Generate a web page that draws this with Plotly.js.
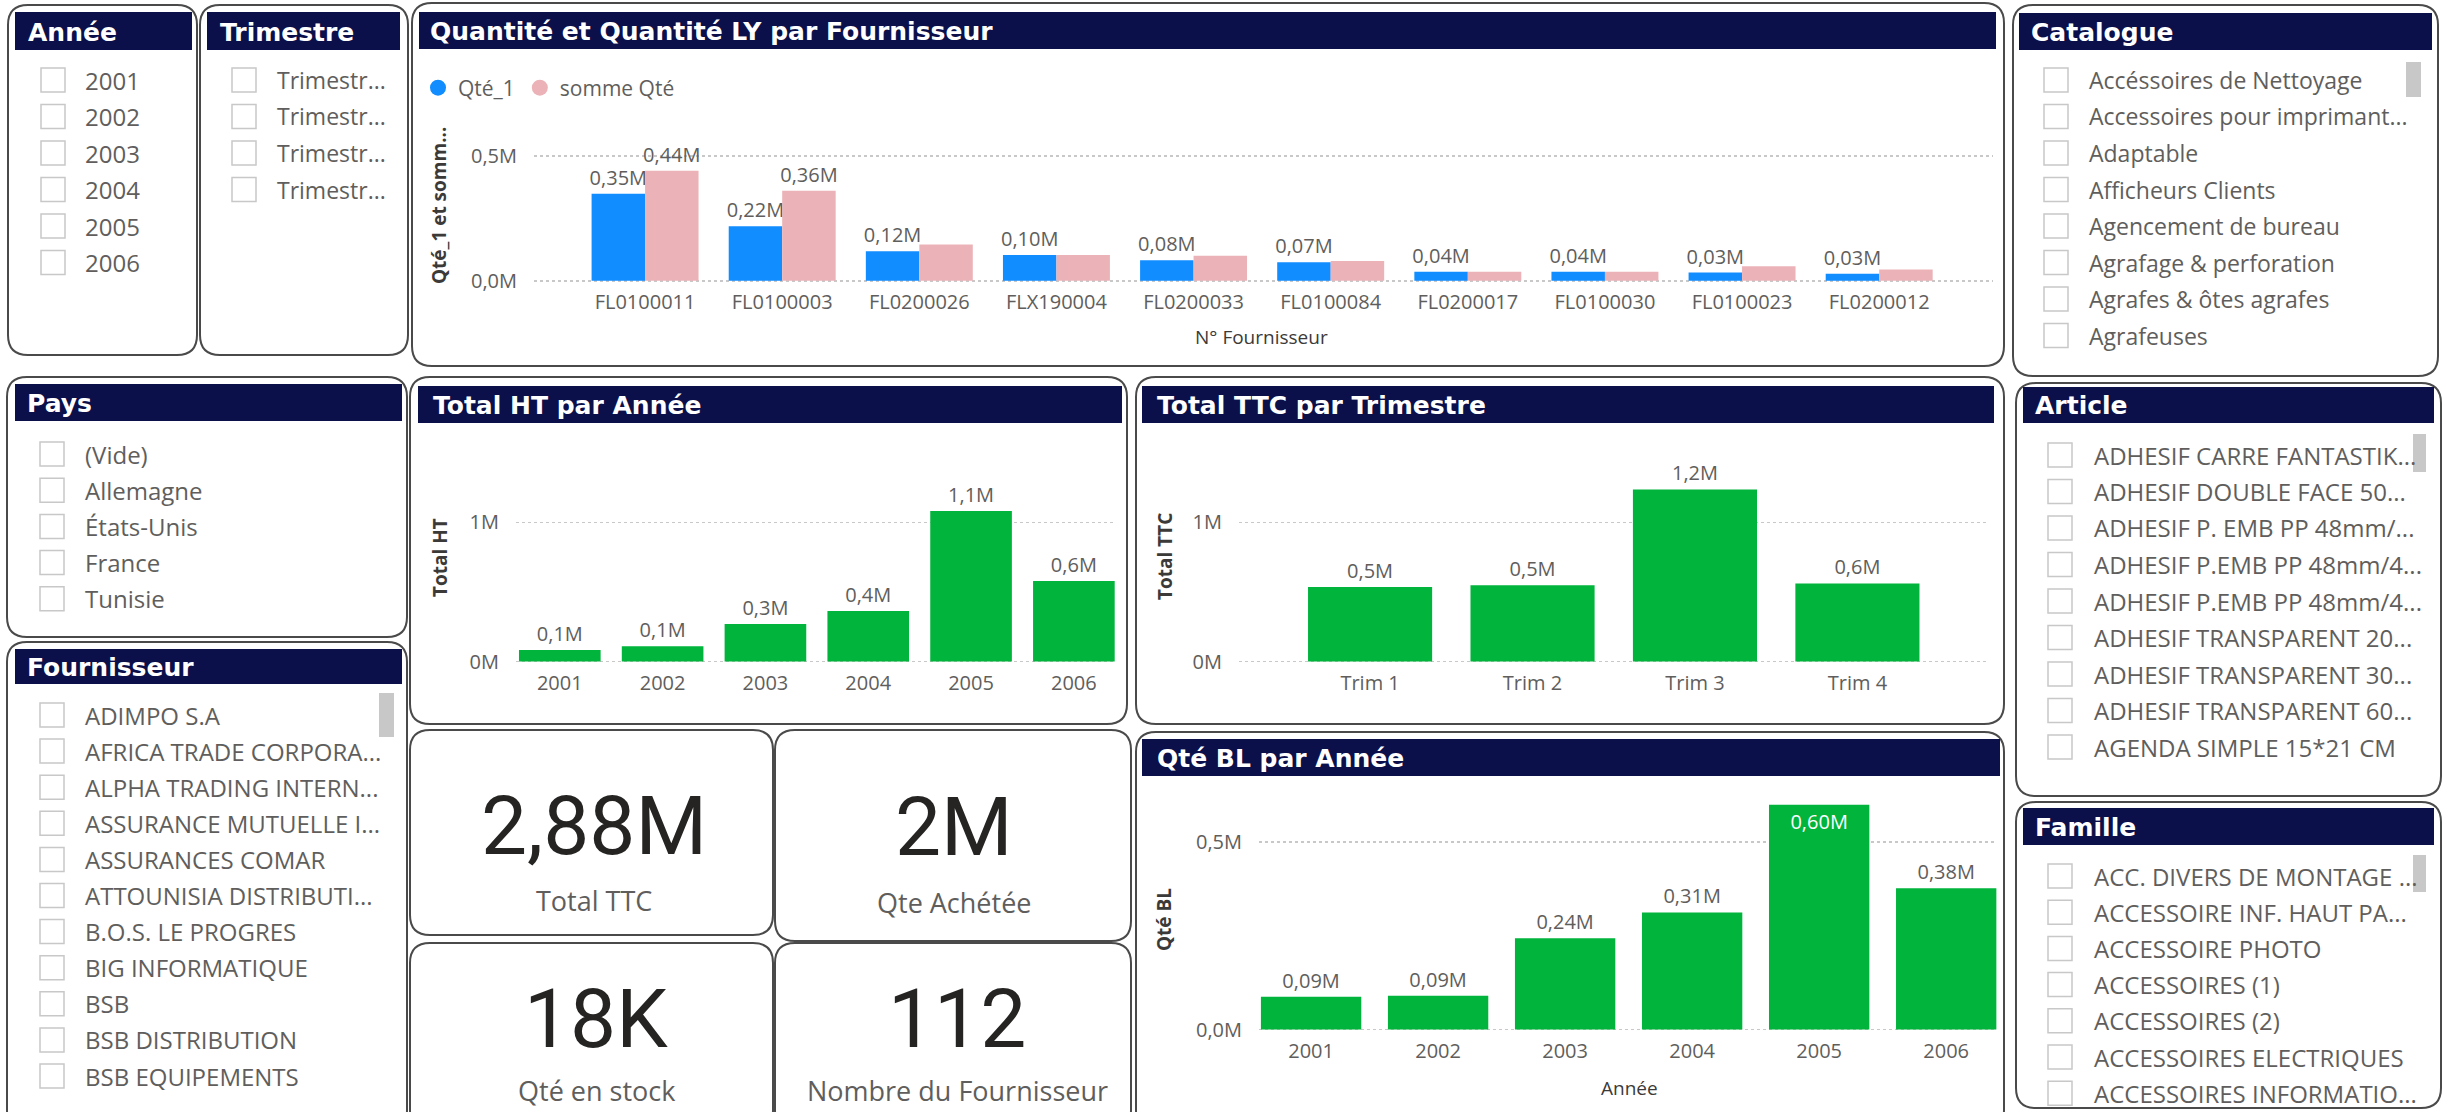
<!DOCTYPE html>
<html>
<head>
<meta charset="utf-8">
<script src="https://cdn.plot.ly/plotly-3.0.1.min.js"></script>
<style>
  html, body { margin: 0; padding: 0; background: #ffffff; }
  #chart { width: 2447px; height: 1112px; }
</style>
</head>
<body>
<div id="chart"></div>
<script>
// ---------------- DATA ----------------
const suppliers = ['FL0100011','FL0100003','FL0200026','FLX190004','FL0200033','FL0100084','FL0200017','FL0100030','FL0100023','FL0200012'];
const qte1 = [0.348, 0.218, 0.118, 0.103, 0.082, 0.074, 0.036, 0.036, 0.033, 0.028];
const sommeQte = [0.44, 0.36, 0.145, 0.103, 0.10, 0.079, 0.036, 0.036, 0.058, 0.045];
const labelledPinkCount = 2;

const years = ['2001','2002','2003','2004','2005','2006'];
const totalHT = [0.083, 0.11, 0.27, 0.364, 1.083, 0.579];

const quarters = ['Trim 1','Trim 2','Trim 3','Trim 4'];
const totalTTC = [0.536, 0.548, 1.238, 0.562];

const qteBL = [0.087, 0.09, 0.243, 0.312, 0.599, 0.376];

const kpiValues = ['2,88M', '2M', '18K', '112'];
const kpiLabels = ['Total TTC', 'Qte Achétée', 'Qté en stock', 'Nombre du Fournisseur'];

const anneeItems = ['2001','2002','2003','2004','2005','2006'];
const trimestreItems = ['Trimestr...','Trimestr...','Trimestr...','Trimestr...'];
const catalogueItems = ['Accéssoires de Nettoyage','Accessoires pour imprimant...','Adaptable','Afficheurs Clients','Agencement de bureau','Agrafage & perforation','Agrafes & ôtes agrafes','Agrafeuses'];
const paysItems = ['(Vide)','Allemagne','États-Unis','France','Tunisie'];
const fournisseurItems = ['ADIMPO S.A','AFRICA TRADE CORPORA...','ALPHA TRADING INTERN...','ASSURANCE MUTUELLE I...','ASSURANCES COMAR','ATTOUNISIA DISTRIBUTI...','B.O.S. LE PROGRES','BIG INFORMATIQUE','BSB','BSB DISTRIBUTION','BSB EQUIPEMENTS'];
const articleItems = ['ADHESIF CARRE FANTASTIK...','ADHESIF DOUBLE FACE 50...','ADHESIF P. EMB PP 48mm/...','ADHESIF P.EMB PP 48mm/4...','ADHESIF P.EMB PP 48mm/4...','ADHESIF TRANSPARENT 20...','ADHESIF TRANSPARENT 30...','ADHESIF TRANSPARENT 60...','AGENDA SIMPLE 15*21 CM'];
const familleItems = ['ACC. DIVERS DE MONTAGE ...','ACCESSOIRE INF. HAUT PA...','ACCESSOIRE PHOTO','ACCESSOIRES (1)','ACCESSOIRES (2)','ACCESSOIRES ELECTRIQUES','ACCESSOIRES INFORMATIO...'];

// ---------------- STYLE / GEOMETRY ----------------
const W = 2447, H = 1112;
const X = p => p / W;
const Y = p => 1 - p / H;
const FONT = '"Segoe UI", "Open Sans", "Noto Sans", sans-serif';
const TFONT = '"DejaVu Sans", Roboto, sans-serif';
const KFONT = 'Roboto, "Open Sans", sans-serif';
const GRAY = '#605E5C';
const DARK = '#3b3a39';
const NAVY = '#0b104a';
const BLUE = '#118DFF';
const PINK = '#EBB3B8';
const GREEN = '#00B43C';
const GRID = '#c8c8c8';
const BORDER = '#4a4a4a';

const shapes = [];
const annotations = [];

function roundRect(x0, y0, x1, y1, r) {
  const rx = r / W, ry = r / H;
  const a = X(x0), b = X(x1), t = Y(y0), u = Y(y1);
  return `M ${a+rx},${t} L ${b-rx},${t} Q ${b},${t} ${b},${t-ry} L ${b},${u+ry} Q ${b},${u} ${b-rx},${u} ` +
         `L ${a+rx},${u} Q ${a},${u} ${a},${u+ry} L ${a},${t-ry} Q ${a},${t} ${a+rx},${t} Z`;
}
function rect(x0, y0, x1, y1, fill, line, lw, layer) {
  shapes.push({type:'rect', xref:'paper', yref:'paper', x0:X(x0), x1:X(x1), y0:Y(y1), y1:Y(y0),
    fillcolor: fill || 'rgba(0,0,0,0)', line:{color: line || 'rgba(0,0,0,0)', width: lw || 0}, layer: layer || 'above'});
}
function text(t, x, y, opts) {
  opts = opts || {};
  annotations.push({text:t, xref:'paper', yref:'paper', x:X(x), y:Y(y), showarrow:false,
    xanchor: opts.xanchor || 'left', yanchor: opts.yanchor || 'middle', textangle: opts.angle || 0,
    font:{family: opts.family || FONT, size: opts.size || 24, color: opts.color || GRAY}});
}

const panels = [
  {box:[8,5,197,355],     bar:[15,12,192,50],    title:'Année', tx:26},
  {box:[200,5,408,355],   bar:[207,12,400,50],   title:'Trimestre', tx:218},
  {box:[412,3,2004,366],  bar:[419,12,1996,49],  title:'Quantité et Quantité LY par Fournisseur', tx:428},
  {box:[2013,5,2438,376], bar:[2019,13,2432,50], title:'Catalogue', tx:2029},
  {box:[7,377,407,637],   bar:[15,384,402,421],  title:'Pays', tx:25},
  {box:[7,642,407,1130],  bar:[15,649,402,684],  title:'Fournisseur', tx:25},
  {box:[410,377,1127,724],bar:[418,386,1122,423],title:'Total HT par Année', tx:431},
  {box:[1136,377,2004,724],bar:[1142,386,1994,423],title:'Total TTC par Trimestre', tx:1155},
  {box:[2016,383,2441,796],bar:[2023,387,2434,423],title:'Article', tx:2033},
  {box:[2016,802,2441,1108],bar:[2023,808,2434,845],title:'Famille', tx:2033},
  {box:[410,730,773,935]},
  {box:[775,730,1131,941]},
  {box:[410,943,773,1130]},
  {box:[775,943,1131,1130]},
  {box:[1136,732,2004,1130],bar:[1142,739,2000,776],title:'Qté BL par Année', tx:1155}
];
panels.forEach(p => {
  const [x0,y0,x1,y1] = p.box;
  shapes.push({type:'path', xref:'paper', yref:'paper', path: roundRect(x0,y0,x1,y1,20),
    fillcolor:'white', line:{color:BORDER, width:2}, layer:'below'});
  if (p.bar) {
    const [a,b,c,d] = p.bar;
    rect(a,b,c,d, NAVY, null, 0, 'above');
    text('<b>' + p.title + '</b>', p.tx, (b+d)/2 + 1, {family:TFONT, size:25, color:'white'});
  }
});

function slicer(items, xBox, xText, y0, dy, size) {
  items.forEach((t, i) => {
    const y = y0 + i * dy;
    rect(xBox, y-12, xBox+24, y+12, null, '#c8c8c8', 1.5, 'above');
    text(t, xText, y, {size: size || 24});
  });
}
slicer(anneeItems, 41, 83, 80, 36.5);
slicer(trimestreItems, 232, 275, 80, 36.5, 23);
slicer(catalogueItems, 2044, 2087, 80, 36.5, 23);
slicer(paysItems, 40, 83, 454, 36.2);
slicer(fournisseurItems, 40, 83, 715, 36.1);
slicer(articleItems, 2048, 2092, 455, 36.5);
slicer(familleItems, 2048, 2092, 876, 36.2);
// scrollbars
rect(2406, 62, 2421, 97, '#c8c8c8');
rect(2413, 434, 2426, 472, '#c8c8c8');
rect(2413, 855, 2426, 892, '#c8c8c8');
rect(379, 693, 394, 737, '#c8c8c8');

// KPI cards
const kpiPos = [[594, 826, 900], [954, 827, 903], [596, 1019, 1090], [957, 1019, 1090]];
kpiValues.forEach((v, i) => {
  const [cx, vy, ly] = kpiPos[i];
  text(v, cx, vy, {xanchor:'center', family:KFONT, size:82, color:'#252423'});
  text(kpiLabels[i], cx, ly, {xanchor:'center', size:27, color:GRAY});
});

// axis titles
text('<b>Qté_1 et somm...</b>', 439, 205, {xanchor:'center', angle:-90, size:19, color:DARK});
text('N° Fournisseur', 1261, 337, {xanchor:'center', size:19, color:DARK});
text('<b>Total HT</b>', 440, 558, {xanchor:'center', angle:-90, size:19, color:DARK});
text('<b>Total TTC</b>', 1165, 557, {xanchor:'center', angle:-90, size:19, color:DARK});
text('<b>Qté BL</b>', 1164, 920, {xanchor:'center', angle:-90, size:19, color:DARK});
text('Année', 1629, 1088, {xanchor:'center', size:19, color:DARK});

// ---------------- TRACES ----------------
const fmt2 = v => v.toFixed(2).replace('.', ',') + 'M';
const common = {type:'bar', cliponaxis:false, constraintext:'none', hoverinfo:'skip', showlegend:false,
  textfont:{size:20, color:GRAY, family:FONT}};

const traces = [
  Object.assign({}, common, {x:suppliers, y:qte1, name:'Qté_1', xaxis:'x', yaxis:'y',
    marker:{color:BLUE, line:{width:0}}, texttemplate:'%{y:.2f}M', textposition:'outside'}),
  Object.assign({}, common, {x:suppliers, y:sommeQte, name:'somme Qté', xaxis:'x', yaxis:'y',
    marker:{color:PINK, line:{width:0}}, text: sommeQte.map((v,i) => i < labelledPinkCount ? fmt2(v) : ''),
    texttemplate:'%{text}', textposition:'outside'}),
  {type:'scatter', mode:'markers', x:[null], y:[null], name:'Qté_1', xaxis:'x', yaxis:'y',
    marker:{color:BLUE, size:16, symbol:'circle'}, hoverinfo:'skip'},
  {type:'scatter', mode:'markers', x:[null], y:[null], name:'somme Qté', xaxis:'x', yaxis:'y',
    marker:{color:PINK, size:16, symbol:'circle'}, hoverinfo:'skip'},
  Object.assign({}, common, {x:years, y:totalHT, name:'Total HT', xaxis:'x2', yaxis:'y2', width:0.794,
    marker:{color:GREEN, line:{width:0}}, texttemplate:'%{y:.1f}M', textposition:'outside'}),
  Object.assign({}, common, {x:quarters, y:totalTTC, name:'Total TTC', xaxis:'x3', yaxis:'y3', width:0.764,
    marker:{color:GREEN, line:{width:0}}, texttemplate:'%{y:.1f}M', textposition:'outside'}),
  Object.assign({}, common, {x:years, y:qteBL, name:'Qté BL', xaxis:'x4', yaxis:'y4', width:0.79,
    marker:{color:GREEN, line:{width:0}}, texttemplate:'%{y:.2f}M',
    textposition: qteBL.map(v => v === Math.max(...qteBL) ? 'inside' : 'outside'),
    insidetextanchor:'end',
    insidetextfont:{size:20, color:'white', family:FONT},
    outsidetextfont:{size:20, color:GRAY, family:FONT}})
];

function xax(d0, d1, range, anchor) {
  return {domain:[X(d0), X(d1)], range:range, type:'category', anchor:anchor, showgrid:false,
    zeroline:false, showline:false, ticks:'', tickfont:{size:20, color:GRAY, family:FONT},
    ticklabelstandoff:6, fixedrange:true};
}
function yax(top, bottom, range, dtick, fmt, anchor) {
  return {domain:[Y(bottom), Y(top)], range:range, anchor:anchor, tickmode:'linear', tick0:0, dtick:dtick,
    tickformat:fmt, ticksuffix:'M', showticksuffix:'all',
    showgrid:true, gridcolor:GRID, griddash:'dot', gridwidth:1.5, zeroline:false,
    showline:false, ticks:'', tickfont:{size:20, color:GRAY, family:FONT}, ticklabelstandoff:16, fixedrange:true};
}

const layout = {
  width:W, height:H, margin:{l:0, r:0, t:0, b:0},
  paper_bgcolor:'white', plot_bgcolor:'rgba(0,0,0,0)',
  separators:', ', barmode:'group', bargap:0.22, bargroupgap:0,
  font:{family:FONT, color:GRAY, size:20},
  showlegend:true,
  legend:{orientation:'h', x:X(418), y:Y(88), xanchor:'left', yanchor:'middle',
    font:{size:21, color:GRAY, family:FONT}, bgcolor:'rgba(0,0,0,0)', itemwidth:30,
    itemclick:false, itemdoubleclick:false},
  xaxis: xax(534, 1993, [-0.81, 9.83], 'y'),
  yaxis: yax(120, 282, [-0.005, 0.643], 0.5, '.1f', 'x'),
  xaxis2: xax(516, 1115, [-0.426, 5.4], 'y2'),
  yaxis2: yax(440, 663, [-0.01, 1.593], 1, '.0f', 'x2'),
  xaxis3: xax(1239, 1989, [-0.807, 3.81], 'y3'),
  yaxis3: yax(440, 663, [-0.01, 1.593], 1, '.0f', 'x3'),
  xaxis4: xax(1259, 1997, [-0.41, 5.4], 'y4'),
  yaxis4: yax(790, 1031, [-0.004, 0.638], 0.5, '.1f', 'x4'),
  shapes: shapes,
  annotations: annotations
};

Plotly.newPlot('chart', traces, layout, {displayModeBar:false, staticPlot:true});
</script>
</body>
</html>
